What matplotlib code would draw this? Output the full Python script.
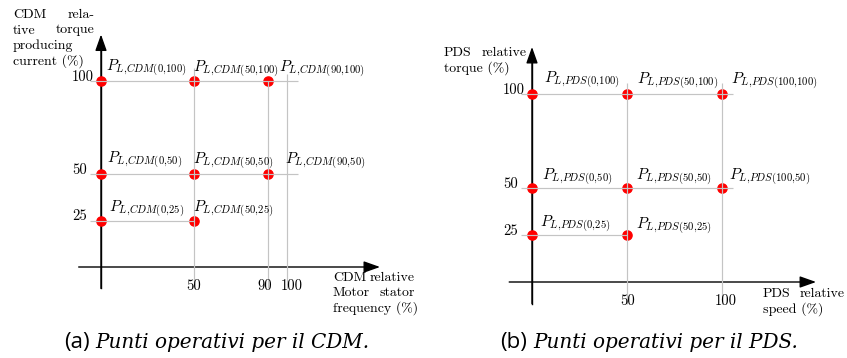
import matplotlib
matplotlib.use('Agg')
import matplotlib.pyplot as plt
from matplotlib.patches import ArrowStyle

plt.rcParams['mathtext.fontset'] = 'cm'

# ---------------- data ----------------
cdm_freq = [0, 50, 90, 0, 50, 90, 0, 50]
cdm_current = [100, 100, 100, 50, 50, 50, 25, 25]
cdm_xticks = [50, 90, 100]
cdm_yticks = [25, 50, 100]

pds_speed = [0, 50, 100, 0, 50, 100, 0, 50]
pds_torque = [100, 100, 100, 50, 50, 50, 25, 25]
pds_xticks = [50, 100]
pds_yticks = [25, 50, 100]

# ---------------- layout ----------------
W, H = 847, 358
fig = plt.figure(figsize=(W / 100, H / 100), dpi=100)

TXT = dict(family='cmr10', fontsize=10, color='black')
NUM = dict(family='cmr10', fontsize=10.5, color='black')
GRID = dict(color='#c4c4c4', lw=0.85, zorder=3, solid_capstyle='butt')
RED = '#ff0000'


def make_axes(px0, px1, ox, oy, sx, sy):
    ax = fig.add_axes([px0 / W, 0, (px1 - px0) / W, 1])
    ax.set_xlim((px0 - ox) / sx, (px1 - ox) / sx)
    ax.set_ylim((oy - H) / sy, oy / sy)
    ax.axis('off')
    return ax


def arrow(ax, start, end):
    ax.annotate('', xy=end, xytext=start,
                arrowprops=dict(arrowstyle=ArrowStyle('-|>', head_length=0.9, head_width=0.32),
                                mutation_scale=11, lw=1.0, color='black',
                                shrinkA=0, shrinkB=0), zorder=1)


def draw_chart(ax, xs, ys, xticks, yticks, name, hline_end, vline_top,
               label_dx, label_dy, xtick_dx, x_axis_end, y_axis_end):
    # axes
    arrow(ax, (-12, 0), (x_axis_end, 0))
    ax.plot([0, 0], [-11.5, y_axis_end - 5], color='black', lw=1.0, zorder=1)
    arrow(ax, (0, -11.5), (0, y_axis_end))
    # grid lines
    for yv in yticks:
        ax.plot([-6, hline_end[yv]], [yv, yv], **GRID)
    for xv in xticks:
        ax.plot([xv, xv], [-11.5, vline_top[xv]], **GRID)
    # points
    ax.plot(xs, ys, 'o', color=RED, ms=6.6, mec=RED, zorder=2, ls='none')
    # point labels
    for i, (xv, yv) in enumerate(zip(xs, ys)):
        ax.annotate(r'$P_{L{,}%s(%d{,}%d)}$' % (name, xv, yv), xy=(xv, yv),
                    xytext=(label_dx[i], label_dy[i]), textcoords='offset pixels',
                    ha='left', va='baseline', fontsize=11)
    # tick labels
    for yv in yticks:
        ax.annotate(str(yv), xy=(0, yv), xytext=(-29, 0), textcoords='offset pixels',
                    ha='left', va='baseline', **NUM)
    for xv in xticks:
        ax.annotate(str(xv), xy=(xv, 0), xytext=(xtick_dx[xv], -23), textcoords='offset pixels',
                    ha='center', va='baseline', **NUM)


# ---------- left chart (CDM) ----------
axL = make_axes(0, 423, 101, 267, 1.86, 1.86)
draw_chart(axL, cdm_freq, cdm_current, cdm_xticks, cdm_yticks, 'CDM',
           hline_end={100: 106, 50: 106, 25: 50},
           vline_top={50: 107, 90: 100, 100: 104},
           label_dx=[5, -1, 11, 6, -1, 17, 8, -1],
           label_dy=[10, 9, 9, 11, 10, 10, 8, 8],
           xtick_dx={50: 0, 90: -4, 100: 5},
           x_axis_end=150, y_axis_end=125)

# ---------- right chart (PDS) ----------
axR = make_axes(423, 847, 532, 282, 1.9, 1.88)
draw_chart(axR, pds_speed, pds_torque, pds_xticks, pds_yticks, 'PDS',
           hline_end={100: 106, 50: 106, 25: 50},
           vline_top={50: 106, 100: 106},
           label_dx=[12, 10, 9, 10, 9, 7, 8, 9],
           label_dy=[11, 10, 10, 8, 8, 8, 8, 6],
           xtick_dx={50: 1, 100: 4},
           x_axis_end=149.5, y_axis_end=125)


# ---------- justified axis titles (pixel positions) ----------
def ftext(x, y, s, ha='left'):
    fig.text(x / W, 1 - y / H, s, ha=ha, va='baseline', **TXT)


def jline(x0, x1, y, left, right):
    ftext(x0, y, left, 'left')
    ftext(x1, y, right, 'right')


# left y title
jline(13, 95, 18, 'CDM', 'rela-')
jline(13, 95, 33.5, 'tive', 'torque')
ftext(13, 49, 'producing')
ftext(13, 64.5, 'current (%)')
# left x title
jline(333, 415, 281, 'CDM', 'relative')
jline(333, 415, 296.5, 'Motor', 'stator')
ftext(333, 312, 'frequency (%)')
# right y title
jline(444, 527, 56, 'PDS', 'relative')
ftext(444, 71.5, 'torque (%)')
# right x title
jline(763, 845, 297, 'PDS', 'relative')
ftext(763, 312.5, 'speed (%)')

# ---------- captions ----------
CAP_SANS = dict(family='Open Sans', fontsize=16)
CAP_IT = dict(family='DejaVu Serif', fontsize=14.4, style='italic')
CAP_Y = 348
fig.text(90 / W, 1 - CAP_Y / H, '(a)', ha='right', va='baseline', **CAP_SANS)
fig.text(95 / W, 1 - CAP_Y / H, 'Punti operativi per il CDM.', ha='left', va='baseline', **CAP_IT)
fig.text(527 / W, 1 - CAP_Y / H, '(b)', ha='right', va='baseline', **CAP_SANS)
fig.text(533 / W, 1 - CAP_Y / H, 'Punti operativi per il PDS.', ha='left', va='baseline', **CAP_IT)

fig.savefig('out.png', dpi=100)
